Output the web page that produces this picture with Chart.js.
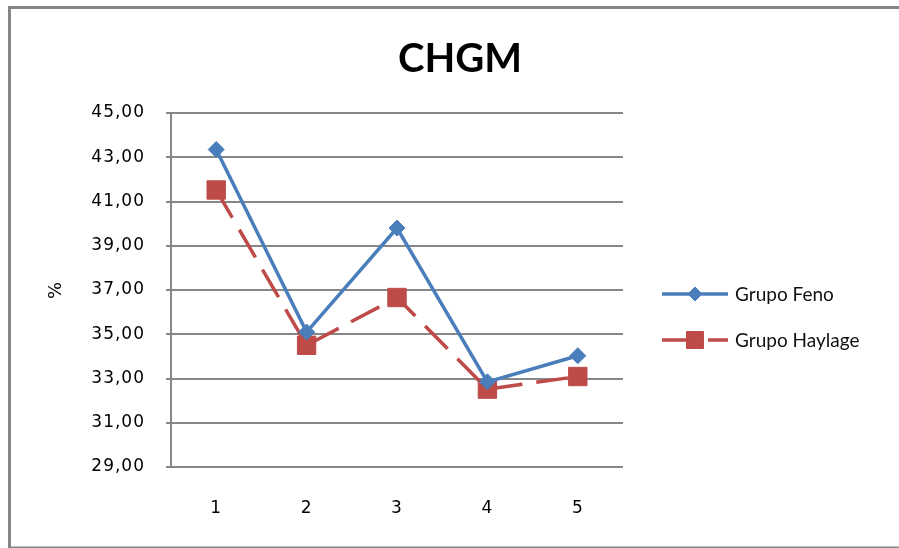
<!DOCTYPE html>
<html>
<head>
<meta charset="utf-8">
<script src="https://cdn.jsdelivr.net/npm/chart.js@4/dist/chart.umd.min.js"></script>
<style>
  html, body { margin: 0; padding: 0; background: #ffffff; overflow: hidden; }
  #wrap { width: 899px; height: 548px; position: relative; }
</style>
</head>
<body>
<div id="wrap"><canvas id="chart" width="899" height="548"></canvas></div>
<script>
// CHGM (%) by sampling point, two feeding groups
const chartTitle = 'CHGM';
const categories = ['1', '2', '3', '4', '5'];
const seriesNames = ['Grupo Feno', 'Grupo Haylage'];
const grupoFeno = [43.35, 35.1, 39.8, 32.85, 34.03];
const grupoHaylage = [41.52, 34.5, 36.66, 32.52, 33.09];
const yMin = 29, yMax = 45, yStep = 2;

const BLUE = '#4a7ebb';
const RED = '#be4b48';
const GRID = '#878787';

const fmt = v => v.toFixed(2).replace('.', ',');

// frame, title and legend drawn on top of the chart
const decorations = {
  id: 'decorations',
  beforeDraw(chart) {
    const ctx = chart.ctx;
    ctx.save();
    ctx.fillStyle = '#ffffff';
    ctx.fillRect(0, 0, chart.width, chart.height);
    ctx.restore();
    ctx.letterSpacing = '1px';
  },
  afterDraw(chart) {
    const ctx = chart.ctx;
    ctx.save();
    ctx.letterSpacing = '0px';

    // outer frame (open on the right)
    ctx.strokeStyle = '#858585';
    ctx.lineWidth = 3;
    ctx.beginPath();
    ctx.moveTo(910, 7.5);
    ctx.lineTo(9.5, 7.5);
    ctx.lineTo(9.5, 548);
    ctx.stroke();
    ctx.beginPath();
    ctx.moveTo(9.5, 548);
    ctx.lineTo(910, 548);
    ctx.stroke();

    // title
    ctx.fillStyle = '#000000';
    ctx.font = 'bold 40px Lato';
    ctx.textAlign = 'center';
    ctx.textBaseline = 'alphabetic';
    ctx.fillText(chartTitle, 460, 72);

    // legend: line sample with marker, then series name
    const rows = [294, 340];
    chart.data.datasets.forEach((ds, i) => {
      const y = rows[i];
      ctx.save();
      ctx.strokeStyle = ds.borderColor;
      ctx.lineWidth = ds.borderWidth;
      ctx.setLineDash(ds.borderDash || []);
      ctx.lineCap = 'butt';
      ctx.beginPath();
      ctx.moveTo(662, y);
      ctx.lineTo(728, y);
      ctx.stroke();
      ctx.setLineDash([]);
      ctx.fillStyle = ds.pointBackgroundColor;
      ctx.strokeStyle = ds.pointBorderColor;
      ctx.lineWidth = 1;
      Chart.helpers.drawPoint(ctx, {
        pointStyle: ds.pointStyle,
        radius: ds.legendRadius,
        borderWidth: 1,
        rotation: 0
      }, 695, y);
      ctx.restore();
      ctx.fillStyle = '#111111';
      ctx.font = '19px Lato';
      ctx.textAlign = 'left';
      ctx.textBaseline = 'middle';
      ctx.fillText(ds.label, 735, y + 1);
    });
    ctx.restore();
  }
};

new Chart(document.getElementById('chart'), {
  type: 'line',
  data: {
    labels: categories,
    datasets: [
      {
        label: seriesNames[0],
        data: grupoFeno,
        borderColor: BLUE,
        backgroundColor: BLUE,
        borderWidth: 3.5,
        pointStyle: 'rectRot',
        pointRadius: 8,
        legendRadius: 7,
        pointBackgroundColor: BLUE,
        pointBorderColor: BLUE,
        pointBorderWidth: 1,
        tension: 0,
        order: 1
      },
      {
        label: seriesNames[1],
        data: grupoHaylage,
        borderColor: RED,
        backgroundColor: RED,
        borderWidth: 3.5,
        borderDash: [32, 14],
        borderCapStyle: 'butt',
        pointStyle: 'rect',
        pointRadius: 13,
        legendRadius: 12,
        pointBackgroundColor: RED,
        pointBorderColor: RED,
        pointBorderWidth: 1,
        tension: 0,
        order: 2
      }
    ]
  },
  options: {
    responsive: false,
    animation: false,
    devicePixelRatio: 1,
    layout: { padding: { top: 113, right: 276, bottom: 0, left: 0 } },
    plugins: {
      legend: { display: false },
      title: { display: false },
      tooltip: { enabled: false }
    },
    scales: {
      x: {
        type: 'category',
        offset: true,
        grid: { display: false, drawTicks: false },
        border: { display: false },
        ticks: {
          color: '#000000',
          font: { family: 'DejaVu Sans', size: 17 },
          padding: 31
        },
        afterFit(scale) { scale.height = 81; }
      },
      y: {
        min: yMin,
        max: yMax,
        ticks: {
          stepSize: yStep,
          color: '#000000',
          font: { family: 'DejaVu Sans', size: 17 },
          padding: 21,
          callback: v => fmt(v)
        },
        grid: {
          color: GRID,
          lineWidth: 2,
          tickLength: 5,
          tickColor: GRID
        },
        border: { display: true, color: GRID, width: 2 },
        title: {
          display: true,
          text: '%',
          color: '#000000',
          font: { family: 'DejaVu Sans', size: 18 },
          padding: { top: 46, bottom: 0 }
        },
        afterFit(scale) { scale.width = 171; }
      }
    }
  },
  plugins: [decorations]
});
</script>
</body>
</html>
